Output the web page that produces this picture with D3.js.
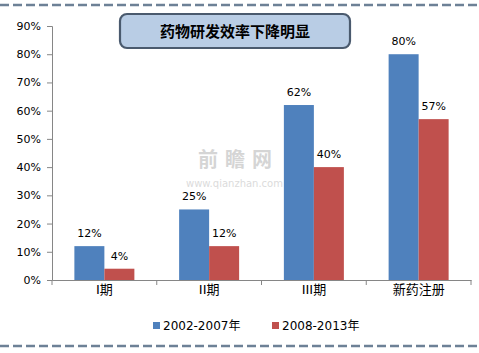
<!DOCTYPE html>
<html>
<head>
<meta charset="utf-8">
<script src="https://cdn.jsdelivr.net/npm/d3@7"></script>
<style>
  body { margin: 0; background: #fff; }
  svg text { font-family: "DejaVu Sans", "Noto Sans CJK SC", sans-serif; }
</style>
</head>
<body>
<div id="chart"></div>
<script>
const categories = ["I期", "II期", "III期", "新药注册"];
const seriesNames = ["2002-2007年", "2008-2013年"];
const series1 = [12, 25, 62, 80];
const series2 = [4, 12, 40, 57];
const yTicks = [0, 10, 20, 30, 40, 50, 60, 70, 80, 90];
const title = "药物研发效率下降明显";

const W = 479, H = 353;
const colors = ["#4f81bd", "#c0504d"];

const svg = d3.select("#chart").append("svg")
  .attr("width", W).attr("height", H);

// dashed frame lines top and bottom
[5, 346].forEach(y => {
  svg.append("line")
    .attr("x1", 0).attr("x2", W).attr("y1", y).attr("y2", y)
    .attr("stroke", "#6d8196").attr("stroke-width", 2.5)
    .attr("stroke-dasharray", "9,4");
});

const x = d3.scaleBand().domain(categories).range([52, 471]);
const y = d3.scaleLinear().domain([0, 90]).range([280, 26]);
const xs = d3.scaleBand().domain([0, 1]).range([0, 60]);

// watermark
const wm = svg.append("g").attr("opacity", 0.35);
wm.append("text").attr("x", 198).attr("y", 167).attr("font-size", 20)
  .attr("font-weight", "bold").attr("fill", "#888").text("前 瞻 网");
wm.append("text").attr("x", 186).attr("y", 187).attr("font-size", 10)
  .attr("fill", "#999").text("www.qianzhan.com");

// bars
const data = categories.map((c, i) => ({ c, v: [series1[i], series2[i]] }));
const g = svg.append("g").selectAll("g").data(data).join("g")
  .attr("transform", d => `translate(${x(d.c) + x.bandwidth() / 2 - 30},0)`);
g.selectAll("rect").data(d => d.v).join("rect")
  .attr("x", (d, i) => xs(i))
  .attr("width", xs.bandwidth())
  .attr("y", d => y(d))
  .attr("height", d => y(0) - y(d))
  .attr("fill", (d, i) => colors[i]);
g.selectAll("text").data(d => d.v).join("text")
  .attr("x", (d, i) => xs(i) + xs.bandwidth() / 2)
  .attr("y", d => y(d) - 9)
  .attr("text-anchor", "middle")
  .attr("font-size", 11)
  .attr("fill", "#000")
  .text(d => d + "%");

// y axis
const yAxis = svg.append("g").attr("transform", "translate(52,0)")
  .call(d3.axisLeft(y).tickValues(yTicks).tickSize(5).tickFormat(d => d + "%"));
yAxis.select(".domain").attr("stroke", "#868686");
yAxis.selectAll(".tick line").attr("stroke", "#868686");
yAxis.selectAll("text").attr("font-size", 11).attr("fill", "#000").attr("dx", -3);

// x axis
const xAxis = svg.append("g").attr("transform", `translate(0,${y(0)})`)
  .call(d3.axisBottom(x).tickSize(0).tickSizeOuter(0));
xAxis.select(".domain").attr("stroke", "#868686");
xAxis.selectAll(".tick text").attr("font-size", 13).attr("fill", "#000").attr("dy", 11);
const sep = [0, 1, 2, 3].map(i => x(categories[i])).concat([x.range()[1]]);
xAxis.selectAll(".sep").data(sep).join("line")
  .attr("x1", d => d).attr("x2", d => d).attr("y1", 0).attr("y2", 5)
  .attr("stroke", "#868686");

// title box
svg.append("rect").attr("x", 120).attr("y", 14).attr("width", 230).attr("height", 34)
  .attr("rx", 7).attr("fill", "#b9cde5").attr("stroke", "#4a5a6e").attr("stroke-width", 2.2);
svg.append("text").attr("x", 235).attr("y", 37).attr("text-anchor", "middle")
  .attr("font-size", 15).attr("font-weight", "bold")
  .style("font-family", "'Noto Sans CJK SC', sans-serif")
  .text(title);

// legend
const lx = [153, 272];
const leg = svg.append("g").selectAll("g").data(seriesNames).join("g")
  .attr("transform", (d, i) => `translate(${lx[i]},322)`);
leg.append("rect").attr("width", 7).attr("height", 7).attr("fill", (d, i) => colors[i]);
leg.append("text").attr("x", 10).attr("y", 8).attr("font-size", 12).text(d => d);
</script>
</body>
</html>
